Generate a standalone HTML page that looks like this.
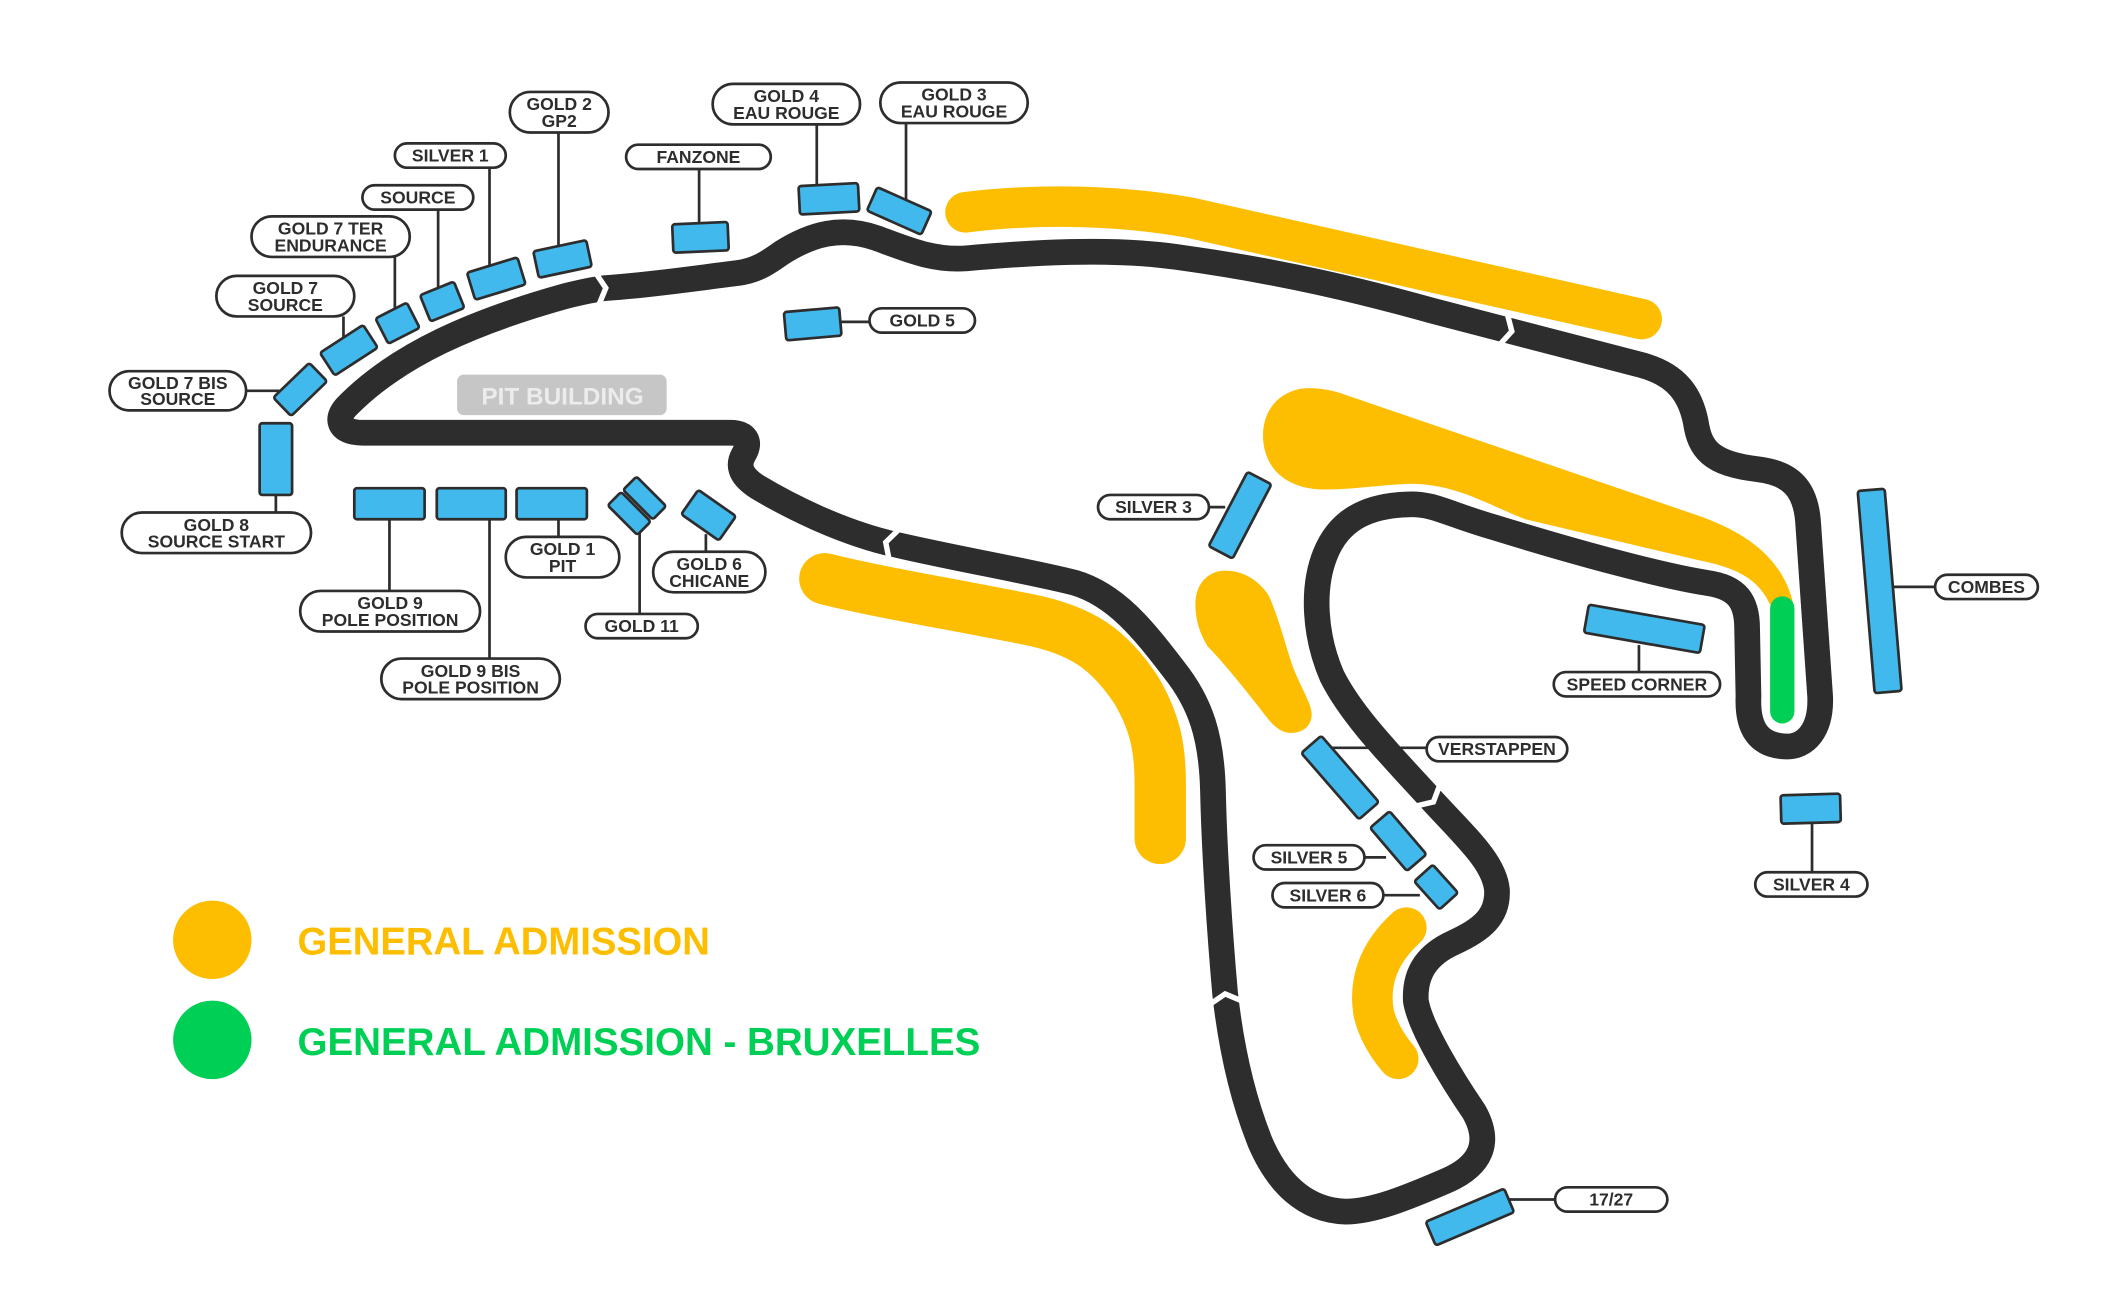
<!DOCTYPE html>
<html><head><meta charset="utf-8"><style>
html,body{margin:0;padding:0;background:#fff;}
svg{display:block;}
.lb{fill:#fff;stroke:#2d2d2d;stroke-width:2;}
.tx{font-family:"Liberation Sans",sans-serif;font-weight:bold;font-size:13px;fill:#2d2d2d;text-anchor:middle;}
.bx{fill:#42B9EC;stroke:#2d2d2d;stroke-width:2;}
.cn{stroke:#2d2d2d;stroke-width:2;fill:none;}
.ch{stroke:#fff;stroke-width:4;fill:none;stroke-linejoin:miter;}
</style></head><body>
<svg width="2118" height="1300" viewBox="0 0 1560 957.5" preserveAspectRatio="none" xmlns="http://www.w3.org/2000/svg">
<rect x="0" y="0" width="1560" height="957.5" fill="#fff"/>
<g transform="scale(0.996)">

<!-- Yellow general admission areas -->
<g fill="none" stroke="#FDBD00" stroke-linecap="round" stroke-linejoin="round">
  <path d="M 714,157 C 770,150 830,152 880,161 L 1214,236" stroke-width="30"/>
  <path d="M 610,428 C 650,438 700,446 760,458 C 800,466 820,480 840,510 C 855,535 858,555 858,580 L 858,620" stroke-width="38"/>
  <path d="M 1040,686 C 1018,706 1012,728 1016,750 C 1020,765 1028,776 1034,783" stroke-width="30"/>
</g>
<path fill="#FDBD00" d="M 995,292 L 1255,381 C 1290,393 1318,412 1326,446 L 1309,447 C 1300,428 1285,420 1255,414 L 1128,384 C 1100,373 1080,360 1050,358 C 1030,357 1005,362 980,362 C 950,362 934,345 934,322 C 934,300 950,287 968,287 C 978,287 987,289 995,292 Z"/>
<path fill="#FDBD00" d="M 884,447 C 884,430 895,422 906,422 C 918,422 930,428 938,440 C 945,455 950,475 955,490 C 960,505 970,520 970,528 C 970,538 962,542 955,542 C 948,542 943,538 938,532 C 925,515 905,490 893,478 C 887,468 884,458 884,447 Z"/>

<!-- Green -->
<line x1="1318" y1="450" x2="1318" y2="526" stroke="#00CF55" stroke-width="18" stroke-linecap="round"/>

<!-- Track -->
<path fill="none" stroke="#2d2d2d" stroke-width="19" stroke-linejoin="round" d="M 540,320 L 268,320 C 250,320 247,309 258,299 C 295,262 350,238 418,219 C 430,216 440,214 448,213 C 480,211 520,205 545,202 C 560,200 568,194 578,187 C 600,173 622,167 648,176 C 670,184 690,193 715,191 C 760,187 820,183 870,190 C 950,201 1010,216 1060,230 L 1214,270 C 1240,277 1250,292 1254,312 C 1257,332 1265,343 1300,347 C 1325,350 1335,362 1337,385 L 1346,515 C 1347,540 1335,553 1320,552 C 1300,551 1292,538 1293,515 L 1292,465 C 1292,445 1285,434 1262,431 C 1230,426 1170,410 1105,390 C 1070,380 1060,372 1041,373 C 1010,374 990,385 980,410 C 970,435 972,470 985,500 C 1000,530 1030,560 1060,593 C 1085,620 1105,638 1107,658 C 1108,678 1095,688 1075,697 C 1055,706 1046,720 1047,740 C 1050,760 1075,800 1090,822 C 1103,845 1095,862 1070,873 C 1040,886 1015,896 995,896 C 965,895 945,875 932,845 C 920,815 911,780 906,735 C 902,690 898,630 897,585 C 896,545 888,520 868,495 C 845,465 825,440 795,431 C 760,422 700,412 655,401 C 620,392 585,375 560,360 C 546,351 546,343 550,336 C 556,326 551,320 540,320 Z"/>

<!-- Chevrons -->
<polyline class="ch" points="442.4,226.6 448,213 439.8,200.8"/>
<polyline class="ch" points="1108.1,255.9 1118,245 1114.3,230.7"/>
<polyline class="ch" points="1045.7,596.4 1060,593 1065.2,579.2"/>
<polyline class="ch" points="919.6,740.7 906,735 893.8,743.3"/>
<polyline class="ch" points="665.6,390.7 655,401 657.8,415.5"/>

<!-- Pit building -->
<rect x="338" y="277" width="155" height="30" rx="5" fill="#C6C6C6"/>
<text x="416" y="299" font-family="Liberation Sans, sans-serif" font-weight="bold" font-size="18" fill="#ECECEC" text-anchor="middle">PIT BUILDING</text>

<!-- Connectors -->
<g class="cn">
  <line x1="413" y1="98" x2="413" y2="182"/>
  <line x1="362" y1="124" x2="362" y2="196"/>
  <line x1="324" y1="155" x2="324" y2="214"/>
  <line x1="292" y1="190" x2="292" y2="230"/>
  <line x1="254" y1="234" x2="254" y2="250"/>
  <line x1="182" y1="289" x2="207" y2="289"/>
  <line x1="204" y1="366" x2="204" y2="379"/>
  <line x1="288" y1="384" x2="288" y2="437"/>
  <line x1="362" y1="384" x2="362" y2="487"/>
  <line x1="413" y1="384" x2="413" y2="397"/>
  <line x1="473" y1="390" x2="473" y2="454"/>
  <line x1="522" y1="395" x2="522" y2="408"/>
  <line x1="517" y1="125" x2="517" y2="166"/>
  <line x1="604" y1="92" x2="604" y2="137"/>
  <line x1="670" y1="91" x2="670" y2="149"/>
  <line x1="621" y1="238" x2="643" y2="238"/>
  <line x1="894" y1="375" x2="906" y2="375"/>
  <line x1="985" y1="553" x2="1055" y2="553"/>
  <line x1="1009" y1="634" x2="1025" y2="634"/>
  <line x1="1023" y1="662" x2="1050" y2="662"/>
  <line x1="1212" y1="477" x2="1212" y2="497"/>
  <line x1="1396" y1="434" x2="1431" y2="434"/>
  <line x1="1340" y1="608" x2="1340" y2="645"/>
  <line x1="1114" y1="887" x2="1150" y2="887"/>
</g>

<!-- Blue stands -->
<g class="bx">
  <rect x="-18.5" y="-9.5" width="37" height="19" rx="2" transform="translate(222,288) rotate(-44)"/>
  <rect x="-19" y="-10" width="38" height="20" rx="2" transform="translate(258,259) rotate(-33)"/>
  <rect x="-13" y="-10.5" width="26" height="21" rx="2" transform="translate(294,239) rotate(-27)"/>
  <rect x="-13.5" y="-10.5" width="27" height="21" rx="2" transform="translate(327,223) rotate(-22)"/>
  <rect x="-19.5" y="-10.5" width="39" height="21" rx="2" transform="translate(367,206) rotate(-17)"/>
  <rect x="-20" y="-10" width="40" height="20" rx="2" transform="translate(416,191.5) rotate(-12)"/>
  <rect x="-20.5" y="-10.5" width="41" height="21" rx="2" transform="translate(518,175.5) rotate(-2.5)"/>
  <rect x="-22" y="-10.5" width="44" height="21" rx="2" transform="translate(613,147) rotate(-3)"/>
  <rect x="-22" y="-9.5" width="44" height="19" rx="2" transform="translate(665,156) rotate(24)"/>
  <rect x="-20.5" y="-10.5" width="41" height="21" rx="2" transform="translate(601,239.5) rotate(-5)"/>
  <rect x="192" y="313" width="24" height="53" rx="2"/>
  <rect x="262" y="361" width="52" height="23" rx="2"/>
  <rect x="323" y="361" width="51" height="23" rx="2"/>
  <rect x="382" y="361" width="52" height="23" rx="2"/>
  <rect x="-7" y="-15.5" width="14" height="31" rx="2" transform="translate(476.7,368.3) rotate(-45)"/>
  <rect x="-7" y="-15.5" width="14" height="31" rx="2" transform="translate(465.3,379.7) rotate(-45)"/>
  <rect x="-17" y="-11" width="34" height="22" rx="2" transform="translate(524,381) rotate(35)"/>
  <rect x="-10" y="-31" width="20" height="62" rx="2" transform="translate(917,381) rotate(27.6)"/>
  <rect x="-9.75" y="-32.5" width="19.5" height="65" rx="2" transform="translate(991,575) rotate(-41)"/>
  <rect x="-9.5" y="-21" width="19" height="42" rx="2" transform="translate(1034,622) rotate(-40.5)"/>
  <rect x="-9.25" y="-14" width="18.5" height="28" rx="2" transform="translate(1062,656) rotate(-42)"/>
  <rect x="-43.5" y="-10.5" width="87" height="21" rx="2" transform="translate(1216,465) rotate(10)"/>
  <rect x="-10" y="-75" width="20" height="150" rx="2" transform="translate(1390,437) rotate(-4.8)"/>
  <rect x="-22" y="-10.5" width="44" height="21" rx="2" transform="translate(1339,598) rotate(-1.6)"/>
  <rect x="-31.5" y="-9.5" width="63" height="19" rx="2" transform="translate(1087,900) rotate(-23)"/>
</g>

<!-- Labels -->
<g>
  <rect class="lb" x="377" y="68" width="73" height="30" rx="15"/>
  <text class="tx" x="413.5" y="81.5">GOLD 2</text><text class="tx" x="413.5" y="94">GP2</text>

  <rect class="lb" x="292" y="106" width="82" height="18" rx="9"/>
  <text class="tx" x="333" y="119.5">SILVER 1</text>

  <rect class="lb" x="268" y="137" width="82" height="18" rx="9"/>
  <text class="tx" x="309" y="150.5">SOURCE</text>

  <rect class="lb" x="186" y="160" width="117" height="30" rx="15"/>
  <text class="tx" x="244.5" y="173.5">GOLD 7 TER</text><text class="tx" x="244.5" y="186">ENDURANCE</text>

  <rect class="lb" x="160" y="204" width="102" height="30" rx="15"/>
  <text class="tx" x="211" y="217.5">GOLD 7</text><text class="tx" x="211" y="230">SOURCE</text>

  <rect class="lb" x="81" y="274.5" width="101" height="29" rx="14.5"/>
  <text class="tx" x="131.5" y="287.5">GOLD 7 BIS</text><text class="tx" x="131.5" y="299.5">SOURCE</text>

  <rect class="lb" x="463" y="107" width="107" height="18" rx="9"/>
  <text class="tx" x="516.5" y="120.5">FANZONE</text>

  <rect class="lb" x="527" y="62" width="109" height="30" rx="15"/>
  <text class="tx" x="581.5" y="75.5">GOLD 4</text><text class="tx" x="581.5" y="88">EAU ROUGE</text>

  <rect class="lb" x="651" y="61" width="109" height="30" rx="15"/>
  <text class="tx" x="705.5" y="74.5">GOLD 3</text><text class="tx" x="705.5" y="87">EAU ROUGE</text>

  <rect class="lb" x="643" y="228" width="78" height="18" rx="9"/>
  <text class="tx" x="682" y="241.5">GOLD 5</text>

  <rect class="lb" x="90" y="379" width="140" height="30" rx="15"/>
  <text class="tx" x="160" y="392.5">GOLD 8</text><text class="tx" x="160" y="405">SOURCE START</text>

  <rect class="lb" x="222" y="437" width="133" height="30" rx="15"/>
  <text class="tx" x="288.5" y="450.5">GOLD 9</text><text class="tx" x="288.5" y="463">POLE POSITION</text>

  <rect class="lb" x="282" y="487" width="132" height="30" rx="15"/>
  <text class="tx" x="348" y="500.5">GOLD 9 BIS</text><text class="tx" x="348" y="513">POLE POSITION</text>

  <rect class="lb" x="374" y="397" width="84" height="30" rx="15"/>
  <text class="tx" x="416" y="410.5">GOLD 1</text><text class="tx" x="416" y="423">PIT</text>

  <rect class="lb" x="433" y="454" width="83" height="18" rx="9"/>
  <text class="tx" x="474.5" y="467.5">GOLD 11</text>

  <rect class="lb" x="483" y="408" width="83" height="30" rx="15"/>
  <text class="tx" x="524.5" y="421.5">GOLD 6</text><text class="tx" x="524.5" y="434">CHICANE</text>

  <rect class="lb" x="812" y="366" width="82" height="18" rx="9"/>
  <text class="tx" x="853" y="379.5">SILVER 3</text>

  <rect class="lb" x="1431" y="425" width="76" height="18" rx="9"/>
  <text class="tx" x="1469" y="438.5">COMBES</text>

  <rect class="lb" x="1149" y="497" width="123" height="18" rx="9"/>
  <text class="tx" x="1210.5" y="510.5">SPEED CORNER</text>

  <rect class="lb" x="1055" y="545" width="104" height="18" rx="9"/>
  <text class="tx" x="1107" y="558.5">VERSTAPPEN</text>

  <rect class="lb" x="927" y="625" width="82" height="18" rx="9"/>
  <text class="tx" x="968" y="638.5">SILVER 5</text>

  <rect class="lb" x="941" y="653" width="82" height="18" rx="9"/>
  <text class="tx" x="982" y="666.5">SILVER 6</text>

  <rect class="lb" x="1298" y="645" width="83" height="18" rx="9"/>
  <text class="tx" x="1339.5" y="658.5">SILVER 4</text>

  <rect class="lb" x="1150" y="878" width="83" height="18" rx="9"/>
  <text class="tx" x="1191.5" y="891.5">17/27</text>
</g>

<!-- Legend -->
<circle cx="157" cy="695" r="29" fill="#FDBD00"/>
<text x="220" y="706" font-family="Liberation Sans, sans-serif" font-weight="bold" font-size="29" fill="#FDBD00" textLength="305" lengthAdjust="spacingAndGlyphs">GENERAL ADMISSION</text>
<circle cx="157" cy="769" r="29" fill="#00CF55"/>
<text x="220" y="780" font-family="Liberation Sans, sans-serif" font-weight="bold" font-size="29" fill="#00CF55" textLength="505" lengthAdjust="spacingAndGlyphs">GENERAL ADMISSION - BRUXELLES</text>
</g>
</svg>
</body></html>
